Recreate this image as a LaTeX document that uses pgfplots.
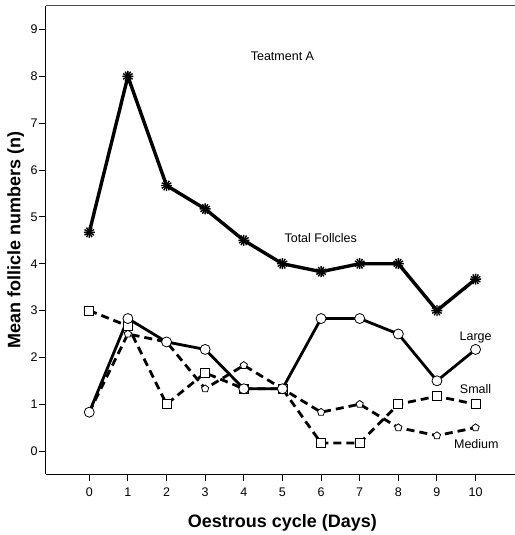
\documentclass[border=0pt]{standalone}
\usepackage{pgfplots}
\pgfplotsset{compat=1.18}
\usepackage{fontspec}
\setmainfont{Liberation Sans}
\usetikzlibrary{calc}
\begin{document}
\begin{tikzpicture}
\begin{axis}[
  scale only axis, width=469pt, height=468.3pt,
  xmin=-1.12, xmax=11.02, ymin=-0.49, ymax=9.51,
  axis lines=left, axis line style={-, line width=1pt},
  xtick={0,...,10}, ytick={0,...,9},
  tick align=outside, major tick length=7pt,
  tick style={black, line width=1pt},
  /pgf/number format/assume math mode=true,
  tick label style={font=\fontsize{12.5}{14}\selectfont},
  x tick label style={yshift=-3pt},
  y tick label style={xshift=2pt},
  xlabel={Oestrous cycle (Days)},
  ylabel={Mean follicle numbers (n)},
  label style={font=\fontsize{18}{20}\selectfont\bfseries},
  xlabel style={at={(axis description cs:0.504,0)}, anchor=base, yshift=-53pt},
  ylabel style={at={(axis description cs:0,0.5)}, anchor=base, yshift=25.5pt},
  clip=false,
]
\draw[black!70, line width=1.3pt] (rel axis cs:0,1) -- (rel axis cs:1,1);
\coordinate (bl) at (rel axis cs:0,0);
\coordinate (tr) at (rel axis cs:1,1);
% Total
\addplot[black, line width=3.4pt, mark=asterisk, mark size=5.5pt, mark options={line width=1.4pt, solid}]
coordinates {(0,4.67)(1,8)(2,5.67)(3,5.17)(4,4.5)(5,4.0)(6,3.83)(7,4)(8,4)(9,3)(10,3.67)};
\addplot[black, mark=asterisk, mark size=5.5pt, mark options={rotate=30, line width=1.4pt}, only marks]
coordinates {(0,4.67)(1,8)(2,5.67)(3,5.17)(4,4.5)(5,4.0)(6,3.83)(7,4)(8,4)(9,3)(10,3.67)};
% Medium
\addplot[black, line width=2.8pt, dash pattern=on 8pt off 5pt, mark=pentagon*, mark size=3.8pt, mark options={solid, fill=white, line width=0.8pt}]
coordinates {(0,0.83)(1,2.5)(2,2.33)(3,1.33)(4,1.83)(5,1.33)(6,0.83)(7,1.0)(8,0.5)(9,0.33)(10,0.5)};
% Small
\addplot[black, line width=2.8pt, dash pattern=on 8pt off 5pt, mark=square*, mark size=4.5pt, mark options={solid, fill=white, line width=0.8pt}]
coordinates {(0,3)(1,2.67)(2,1)(3,1.67)(4,1.33)(5,1.33)(6,0.17)(7,0.17)(8,1)(9,1.17)(10,1)};
% Large
\addplot[black, line width=2.8pt, mark=*, mark size=5pt, mark options={solid, fill=white, line width=0.8pt}]
coordinates {(0,0.83)(1,2.83)(2,2.33)(3,2.17)(4,1.33)(5,1.33)(6,2.83)(7,2.83)(8,2.5)(9,1.5)(10,2.17)};
\node[font=\fontsize{12.5}{14}\selectfont] at (axis cs:5.0,8.43) {Teatment A};
\node[font=\fontsize{12.5}{14}\selectfont] at (axis cs:5.99,4.54) {Total Follcles};
\node[font=\fontsize{12.5}{14}\selectfont] at (axis cs:10,2.42) {Large};
\node[font=\fontsize{12.5}{14}\selectfont] at (axis cs:10,1.32) {Small};
\node[font=\fontsize{12.5}{14}\selectfont] at (axis cs:10.02,0.16) {Medium};
\end{axis}
\pgfresetboundingbox
\path ($(bl)+(-46pt,-61pt)$) rectangle ($(tr)+(0pt,5.7pt)$);
\end{tikzpicture}
\end{document}
